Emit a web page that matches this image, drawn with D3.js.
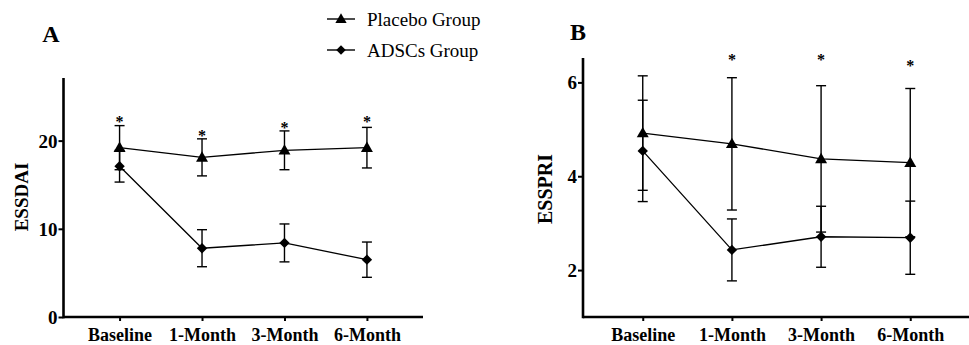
<!DOCTYPE html>
<html>
<head>
<meta charset="utf-8">
<script src="https://cdn.jsdelivr.net/npm/d3@7/dist/d3.min.js"></script>
<style>
html,body{margin:0;padding:0;background:#fff;}
svg{display:block;}
svg text{font-family:"Liberation Serif","Times New Roman",Times,Tinos,"DejaVu Serif",serif !important;fill:#000;}
</style>
</head>
<body>
<svg id="chart" width="969" height="345"></svg>
<script>
const categories = ["Baseline", "1-Month", "3-Month", "6-Month"];
const seriesNames = ["Placebo Group", "ADSCs Group"];

// Panel A: ESSDAI
const essdaiPlacebo   = [19.2, 18.1, 18.9, 19.2];
const essdaiPlaceboSD = [2.5, 2.1, 2.2, 2.3];
const essdaiADSC      = [17.1, 7.8, 8.4, 6.5];
const essdaiADSCSD    = [1.8, 2.1, 2.15, 2.0];
const essdaiStar      = [22.5, 20.9, 21.8, 22.5];
const essdaiTicks     = [0, 10, 20];

// Panel B: ESSPRI
const esspriPlacebo   = [4.92, 4.69, 4.37, 4.29];
const esspriPlaceboSD = [1.22, 1.41, 1.56, 1.58];
const esspriADSC      = [4.54, 2.43, 2.71, 2.69];
const esspriADSCSD    = [1.08, 0.66, 0.65, 0.78];
const esspriStar      = [null, 6.54, 6.54, 6.42];
const esspriTicks     = [2, 4, 6];

const FONT = "'Liberation Serif','Times New Roman',Times,Tinos,'DejaVu Serif',serif";
const svg = d3.select("#chart");
svg.append("rect").attr("width", 969).attr("height", 345).attr("fill", "#fff");

const triSym = d3.symbol().type(d3.symbolTriangle);
const sqSym = d3.symbol().type(d3.symbolSquare);

function drawMarker(g, type, x, y, size) {
  if (type === "tri") {
    g.append("path").attr("d", triSym.size(size)()).attr("transform", `translate(${x},${y + 0.8})`).attr("fill", "#000");
  } else {
    g.append("path").attr("d", sqSym.size(size)()).attr("transform", `translate(${x},${y}) rotate(45)`).attr("fill", "#000");
  }
}

function panel(opts) {
  const g = svg.append("g");
  const x = d3.scalePoint().domain(categories).range([opts.x0, opts.x1]).padding(opts.pad);
  const y = d3.scaleLinear().domain(opts.domain).range([opts.y0, opts.y1]);

  const series = [
    {v: opts.placebo, sd: opts.placeboSD, type: "tri"},
    {v: opts.adsc, sd: opts.adscSD, type: "dia"}
  ];
  // error bars
  series.forEach(s => {
    s.v.forEach((v, i) => {
      const cx = x(categories[i]);
      const top = y(v + s.sd[i]), bot = y(v - s.sd[i]);
      g.append("line").attr("x1", cx).attr("x2", cx).attr("y1", top).attr("y2", bot)
        .attr("stroke", "#000").attr("stroke-width", 1.4);
      [top, bot].forEach(yy => g.append("line").attr("x1", cx - 5).attr("x2", cx + 5)
        .attr("y1", yy).attr("y2", yy).attr("stroke", "#000").attr("stroke-width", 1.4));
    });
  });
  // lines
  const line = d3.line().x((d, i) => x(categories[i])).y(d => y(d));
  series.forEach(s => {
    g.append("path").attr("d", line(s.v)).attr("fill", "none").attr("stroke", "#000").attr("stroke-width", 1.3);
  });
  // markers
  series.forEach(s => {
    s.v.forEach((v, i) => drawMarker(g, s.type, x(categories[i]), y(v), s.type === "tri" ? 62 : 54));
  });
  // stars
  opts.star.forEach((v, i) => {
    if (v == null) return;
    g.append("text").attr("x", x(categories[i])).attr("y", y(v) + 8)
      .attr("text-anchor", "middle").attr("font-size", 16).attr("font-weight", "bold").text("*");
  });

  // axes
  const yAxis = d3.axisLeft(y).tickValues(opts.ticks).tickSize(5).tickPadding(1).tickFormat(d3.format("d"));
  const ya = g.append("g").attr("transform", `translate(${opts.x0},0)`).call(yAxis).attr("font-family", FONT);
  ya.select(".domain").attr("stroke-width", 2.6).attr("d", `M0,${opts.y0 + 1.3}V${opts.y1}`);
  ya.selectAll(".tick line").attr("stroke-width", 2);
  ya.selectAll(".tick text").attr("font-size", 19).attr("font-weight", "bold").attr("fill", "#000").attr("dy", "0.34em");

  const xAxis = d3.axisBottom(x).tickSize(4).tickPadding(7);
  const xa = g.append("g").attr("transform", `translate(0,${opts.y0})`).call(xAxis).attr("font-family", FONT);
  xa.select(".domain").attr("stroke-width", 2.6).attr("d", `M${opts.x0},0H${opts.x1}`);
  xa.selectAll(".tick line").attr("stroke-width", 2);
  xa.selectAll(".tick text").attr("font-size", 18).attr("font-weight", "bold").attr("fill", "#000");

  // y title
  g.append("text").attr("transform", `translate(${opts.titleX},${opts.titleY}) rotate(-90)`)
    .attr("text-anchor", "middle").attr("dy", "0.35em")
    .attr("font-size", opts.titleSize).attr("font-weight", "bold").text(opts.title);
  // panel letter
  g.append("text").attr("x", opts.letterX).attr("y", opts.letterY).attr("text-anchor", "middle")
    .attr("font-size", 24).attr("font-weight", "bold").text(opts.letter);
}

panel({
  x0: 63.5, x1: 423, y0: 317, y1: 78, domain: [0, 27.1], pad: 0.68,
  placebo: essdaiPlacebo, placeboSD: essdaiPlaceboSD, adsc: essdaiADSC, adscSD: essdaiADSCSD,
  star: essdaiStar, ticks: essdaiTicks, title: "ESSDAI", titleX: 21, titleY: 197, titleSize: 19,
  letter: "A", letterX: 51, letterY: 42
});
panel({
  x0: 583, x1: 970, y0: 317, y1: 58, domain: [1, 6.52], pad: 0.67,
  placebo: esspriPlacebo, placeboSD: esspriPlaceboSD, adsc: esspriADSC, adscSD: esspriADSCSD,
  star: esspriStar, ticks: esspriTicks, title: "ESSPRI", titleX: 545, titleY: 189, titleSize: 20,
  letter: "B", letterX: 578, letterY: 40
});

// legend
const leg = svg.append("g");
const legY = [19, 50];
seriesNames.forEach((name, i) => {
  const yy = legY[i];
  leg.append("line").attr("x1", 327).attr("x2", 355).attr("y1", yy).attr("y2", yy)
    .attr("stroke", "#000").attr("stroke-width", 1.4);
  drawMarker(leg, i === 0 ? "tri" : "dia", 341, yy, i === 0 ? 55 : 45);
  leg.append("text").attr("x", 367).attr("y", yy + 7).attr("font-size", 19).text(name);
});
</script>
</body>
</html>
